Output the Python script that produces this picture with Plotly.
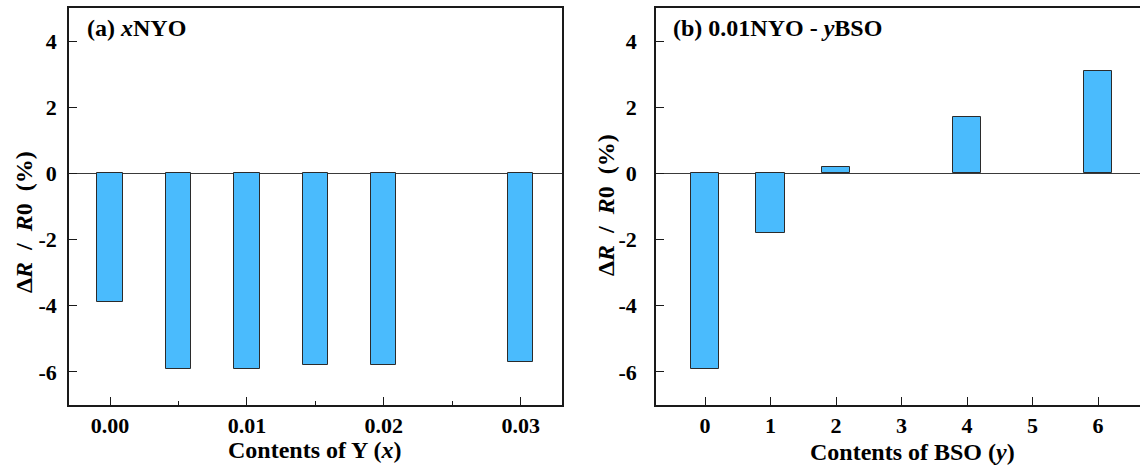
import plotly.graph_objects as go

# ---- data ----
y_contents = [0.000, 0.005, 0.010, 0.015, 0.020, 0.030]
dr_a = [-3.9, -5.9, -5.9, -5.8, -5.8, -5.7]

bso_contents = [0, 1, 2, 4, 6]
dr_b = [-5.9, -1.8, 0.2, 1.7, 3.1]

a_xticks = [0.00, 0.01, 0.02, 0.03]
a_xticklabels = ["0.00", "0.01", "0.02", "0.03"]
b_xticks = [0, 1, 2, 3, 4, 5, 6]
b_xticklabels = ["0", "1", "2", "3", "4", "5", "6"]
yticks = [-6, -4, -2, 0, 2, 4]
yticklabels = ["-6", "-4", "-2", "0", "2", "4"]

W, H = 1140, 467
BAR = "#4ABBFD"
EDGE = "#2b2b2b"
FONT = "Liberation Serif"
tickfont = dict(family=FONT, size=22, color="black", weight="bold")

fig = go.Figure()
fig.add_trace(go.Bar(x=y_contents, y=dr_a, width=[0.00185] * len(y_contents),
                     marker=dict(color=BAR, line=dict(color=EDGE, width=1)),
                     xaxis="x", yaxis="y", showlegend=False))
fig.add_trace(go.Bar(x=bso_contents, y=dr_b, width=[0.44] * len(bso_contents),
                     marker=dict(color=BAR, line=dict(color=EDGE, width=1)),
                     xaxis="x2", yaxis="y2", showlegend=False))

def px(x):
    return x / W

def py(y):
    return 1 - y / H

ydom = [py(405), py(8)]
axline = dict(showline=True, linecolor="#1a1a1a", linewidth=1.6, showgrid=False,
              ticks="inside", tickcolor="#1a1a1a", tickwidth=1.4, ticklen=8,
              tickfont=tickfont)

fig.update_layout(
    width=W, height=H, margin=dict(l=0, r=0, t=0, b=0),
    paper_bgcolor="white", plot_bgcolor="white", bargap=0,
    xaxis=dict(domain=[px(69), px(561.7)], range=[-0.003, 0.033], anchor="y",
               tickvals=a_xticks, ticktext=a_xticklabels, mirror=True,
               minor=dict(ticks="inside", ticklen=4, tickwidth=1.2, tickcolor="#1a1a1a",
                          tickvals=[0.005, 0.015, 0.025]),
               ticklabelstandoff=0, **axline),
    yaxis=dict(domain=ydom, range=[-7, 5], anchor="x", tickvals=yticks,
               ticktext=yticklabels, mirror=True,
               zeroline=True, zerolinecolor="#3a3a3a", zerolinewidth=1.4,
               ticklabelstandoff=6, **axline),
    xaxis2=dict(domain=[px(656), 1.0], range=[-0.748, 6.641], anchor="y2",
                tickvals=b_xticks, ticktext=b_xticklabels, mirror=True,
                ticklabelstandoff=0, **axline),
    yaxis2=dict(domain=ydom, range=[-7, 5], anchor="x2", tickvals=yticks,
                ticktext=yticklabels, mirror=False,
                zeroline=True, zerolinecolor="#3a3a3a", zerolinewidth=1.4,
                ticklabelstandoff=13, **axline),
)

tfont = dict(family=FONT, size=24, color="black")
ytitle = "<b>Δ<i>R</i>&nbsp;&nbsp;/&nbsp;&nbsp;<i>R</i>0&nbsp;&nbsp;(%)</b>"
annos = [
    dict(x=px(85), y=py(28), text="<b>(a) <i>x</i>NYO</b>", xanchor="left", yanchor="middle"),
    dict(x=px(671), y=py(28), text="<b>(b) 0.01NYO - <i>y</i>BSO</b>", xanchor="left", yanchor="middle"),
    dict(x=px(315), y=py(450), text="<b>Contents of Y (<i>x</i>)</b>", xanchor="center", yanchor="middle"),
    dict(x=px(912), y=py(452), text="<b>Contents of BSO (<i>y</i>)</b>", xanchor="center", yanchor="middle"),
    dict(x=px(24), y=py(222), text=ytitle, textangle=-90, xanchor="center", yanchor="middle"),
    dict(x=px(606), y=py(205), text=ytitle, textangle=-90, xanchor="center", yanchor="middle"),
]
for a in annos:
    fig.add_annotation(xref="paper", yref="paper", showarrow=False, font=tfont, **a)

fig.write_html("out.html")
